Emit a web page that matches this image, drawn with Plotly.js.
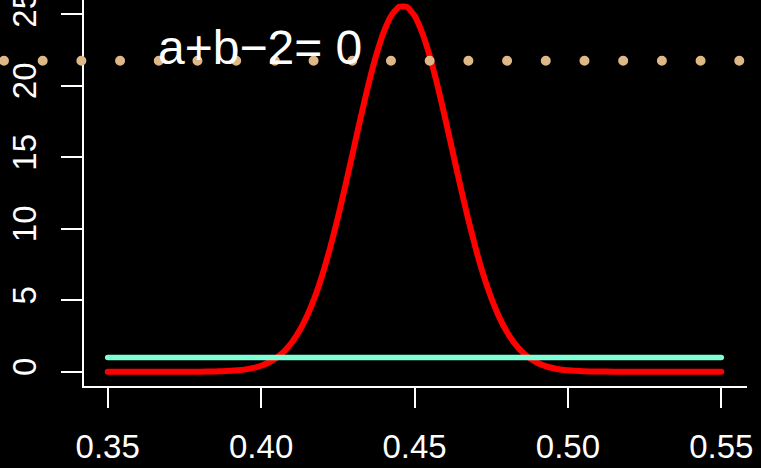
<!DOCTYPE html>
<html>
<head>
<meta charset="utf-8">
<script src="https://cdn.plot.ly/plotly-3.0.1.min.js"></script>
<style>
  html, body { margin: 0; padding: 0; background: #000; }
  #plot { width: 761px; height: 468px; }
</style>
</head>
<body>
<div id="plot"></div>
<script>
// Posterior density of the proportion (red) against the flat prior (green)
var xGrid = [0.350, 0.355, 0.360, 0.365, 0.370, 0.375, 0.380, 0.385, 0.3875, 0.390,
             0.3925, 0.395, 0.3975, 0.400, 0.4025, 0.405, 0.4075, 0.410, 0.4125, 0.415,
             0.4175, 0.420, 0.4225, 0.425, 0.4275, 0.430, 0.4325, 0.435, 0.4375, 0.440,
             0.4425, 0.445, 0.4475, 0.450, 0.4525, 0.455, 0.4575, 0.460, 0.4625, 0.465,
             0.4675, 0.470, 0.4725, 0.475, 0.4775, 0.480, 0.4825, 0.485, 0.4875, 0.490,
             0.4925, 0.495, 0.4975, 0.500, 0.505, 0.510, 0.515, 0.520, 0.525, 0.530,
             0.535, 0.540, 0.545, 0.550];
var posterior = [0, 0, 0, 0, 0, 0.0015, 0.005, 0.019, 0.033, 0.058,
                 0.098, 0.163, 0.264, 0.417, 0.643, 0.969, 1.42, 2.04, 2.86, 3.91,
                 5.22, 6.81, 8.67, 10.76, 13.05, 15.43, 17.83, 20.10, 22.12, 23.77,
                 24.93, 25.53, 25.52, 24.90, 23.71, 22.05, 20.01, 17.73, 15.33, 12.95,
                 10.67, 8.59, 6.74, 5.17, 3.87, 2.83, 2.02, 1.40, 0.95, 0.63,
                 0.41, 0.26, 0.16, 0.096, 0.033, 0.010, 0.003, 0.001, 0, 0,
                 0, 0, 0, 0];
var priorX = [0.35, 0.55];
var priorY = [1, 1];

// Horizontal reference level and its label
var refLevel = 21.75;
var labelText = "a+b\u22122= 0";
var labelX = 0.3995;
var labelY = 22.7;

var xTicks = [0.35, 0.40, 0.45, 0.50, 0.55];
var xTickText = ["0.35", "0.40", "0.45", "0.50", "0.55"];
var yTicks = [0, 5, 10, 15, 20, 25];
var yTickText = ["0", "5", "10", "15", "20", "25"];

var font = "Liberation Sans, Arial, Helvetica, sans-serif";

var traces = [
  {
    x: xGrid, y: posterior, mode: "lines", type: "scatter",
    line: { color: "#ff0000", width: 6, shape: "spline", smoothing: 0.5 },
    hoverinfo: "skip"
  },
  {
    x: priorX, y: priorY, mode: "lines", type: "scatter",
    line: { color: "#7fffd4", width: 5.5 },
    hoverinfo: "skip"
  }
];

var layout = {
  width: 761, height: 468,
  margin: { l: 84, r: 14, t: 0, b: 82, pad: 0 },
  paper_bgcolor: "#000000",
  plot_bgcolor: "#000000",
  showlegend: false,
  font: { family: font, color: "#ffffff", size: 33 },
  xaxis: {
    range: [0.34227, 0.55838],
    tickvals: xTicks, ticktext: xTickText,
    showgrid: false, zeroline: false,
    showline: true, linecolor: "#ffffff", linewidth: 2,
    ticks: "outside", ticklen: 20, tickwidth: 2, tickcolor: "#ffffff",
    tickfont: { family: font, size: 33, color: "#ffffff" },
    ticklabelstandoff: 10,
    ticklabeloverflow: "allow"
  },
  yaxis: {
    range: [-1.0, 26.0],
    tickvals: yTicks, ticktext: yTickText,
    tickangle: -90,
    showgrid: false, zeroline: false,
    showline: true, linecolor: "#ffffff", linewidth: 2,
    ticks: "outside", ticklen: 21, tickwidth: 2, tickcolor: "#ffffff",
    tickfont: { family: font, size: 33, color: "#ffffff" },
    ticklabelstandoff: 12,
    ticklabeloverflow: "allow"
  },
  shapes: [
    {
      type: "line", xref: "paper", yref: "y",
      x0: -0.1207, x1: 0.9974, y0: refLevel, y1: refLevel,
      line: { color: "#deb887", width: 10, dash: "0px,38.7px" },
      layer: "above"
    }
  ],
  annotations: [
    {
      x: labelX, y: labelY, xref: "x", yref: "y",
      text: labelText, showarrow: false,
      xanchor: "center", yanchor: "middle",
      font: { family: font, size: 48, color: "#ffffff" }
    }
  ]
};

Plotly.newPlot("plot", traces, layout, { staticPlot: true }).then(function () {
  // round caps turn the zero-length dashes into dots and soften line ends
  document.querySelectorAll(".shapelayer path").forEach(function (p) {
    p.style.strokeLinecap = "round";
  });
  document.querySelectorAll(".scatterlayer path.js-line").forEach(function (p) {
    p.style.strokeLinecap = "round";
  });
});
</script>
</body>
</html>
